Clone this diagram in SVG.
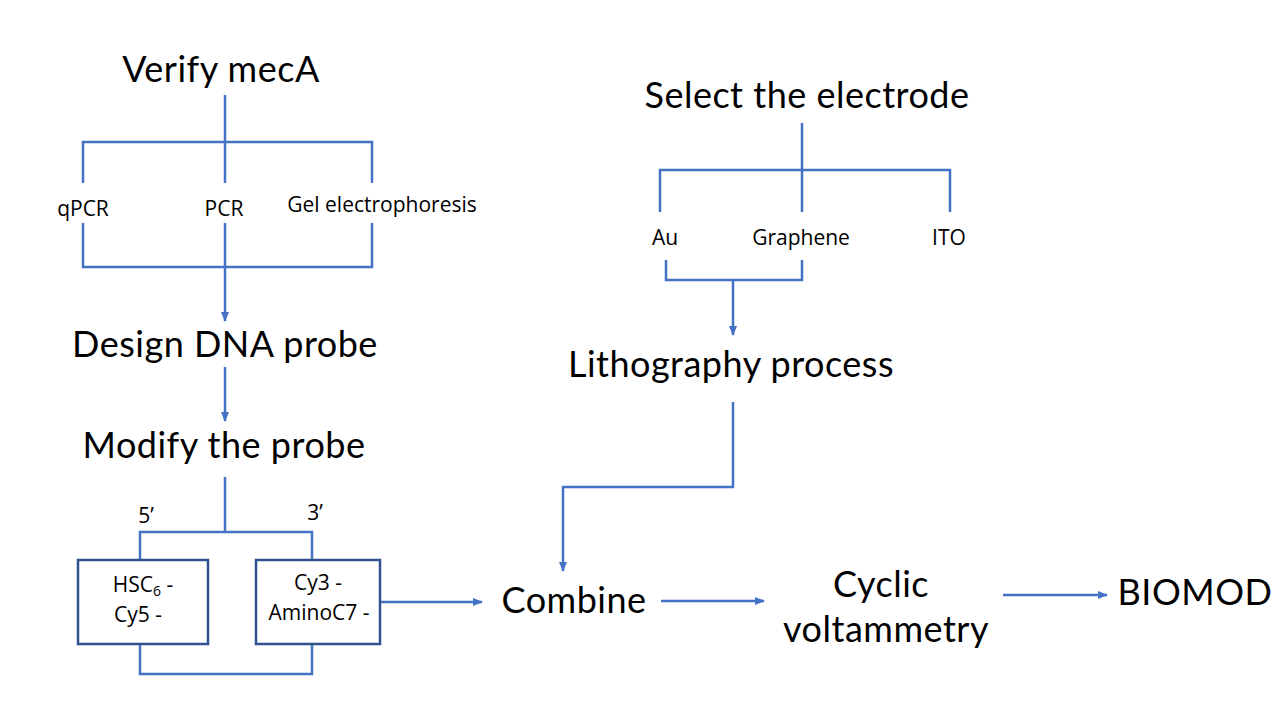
<svg xmlns="http://www.w3.org/2000/svg" width="1280" height="720" viewBox="0 0 1280 720">
<style>
.big{font-family:Lato,"Open Sans","Liberation Sans",sans-serif;font-size:36px;letter-spacing:0.5px;fill:#000;text-anchor:middle}
.sm{font-family:"Open Sans","Liberation Sans",sans-serif;font-size:21px;fill:#000;text-anchor:middle}
.bx{font-family:"Open Sans","Liberation Sans",sans-serif;font-size:21px;fill:#000;text-anchor:middle}
.ln{stroke:#4472C4;stroke-width:2.5;fill:none}
.box{stroke:#2F528F;stroke-width:2.5;fill:#fff}
</style>
<defs>
<marker id="ah" markerWidth="10" markerHeight="8" refX="9" refY="4" orient="auto" markerUnits="userSpaceOnUse">
<path d="M0,0 L10,4 L0,8 Z" fill="#4472C4"/>
</marker>
</defs>
<rect width="1280" height="720" fill="#fff"/>
<g id="connectors">
<path class="ln" d="M225,95 V142 M83,183 V142 H372 V183 M225,142 V183"/>
<path class="ln" d="M83,223 V267 H372 V223 M225,223 V267"/>
<path class="ln" d="M225,267 V321" marker-end="url(#ah)"/>
<path class="ln" d="M225,367 V421" marker-end="url(#ah)"/>
<path class="ln" d="M225,477 V532 M140,560 V532 H312 V560"/>
<path class="ln" d="M140,644 V674 H312 V644"/>
<path class="ln" d="M380,602 H482" marker-end="url(#ah)"/>
<path class="ln" d="M661,601 H764" marker-end="url(#ah)"/>
<path class="ln" d="M1003,595 H1107" marker-end="url(#ah)"/>
<path class="ln" d="M802,123 V212 M660,212 V170 H950 V212"/>
<path class="ln" d="M666,260 V280 H802 V260"/>
<path class="ln" d="M733,280 V335" marker-end="url(#ah)"/>
<path class="ln" d="M733,402 V487 H563 V571" marker-end="url(#ah)"/>
</g>
<g id="verify"><text class="big" x="221" y="82">Verify mecA</text></g>
<g id="qpcr"><text class="sm" x="83" y="216">qPCR</text></g>
<g id="pcr"><text class="sm" x="224" y="216">PCR</text></g>
<g id="gel"><text class="sm" x="382" y="212">Gel electrophoresis</text></g>
<g id="design"><text class="big" x="225" y="357">Design DNA probe</text></g>
<g id="modify"><text class="big" x="224" y="458">Modify the probe</text></g>
<g id="p5"><text class="sm" x="146" y="523">5’</text></g>
<g id="p3"><text class="sm" x="315" y="520">3’</text></g>
<g id="box5">
<rect class="box" x="78" y="560" width="130" height="84"/>
<text class="bx" x="143" y="592">HSC<tspan font-size="14" dy="4">6</tspan><tspan dy="-4"> -</tspan></text>
<text class="bx" x="138" y="622">Cy5 -</text>
</g>
<g id="box3">
<rect class="box" x="256" y="560" width="124" height="84"/>
<text class="bx" x="318" y="590">Cy3 -</text>
<text class="bx" x="319" y="620">AminoC7 -</text>
</g>
<g id="combine"><text class="big" x="574" y="613">Combine</text></g>
<g id="cv"><text class="big" x="881" y="597">Cyclic</text><text class="big" x="886" y="642">voltammetry</text></g>
<g id="biomod"><text class="big" x="1195" y="605">BIOMOD</text></g>
<g id="select"><text class="big" x="807" y="108">Select the electrode</text></g>
<g id="au"><text class="sm" x="665" y="245">Au</text></g>
<g id="graphene"><text class="sm" x="801" y="245">Graphene</text></g>
<g id="ito"><text class="sm" x="949" y="245">ITO</text></g>
<g id="litho"><text class="big" x="731" y="377">Lithography process</text></g>
</svg>
